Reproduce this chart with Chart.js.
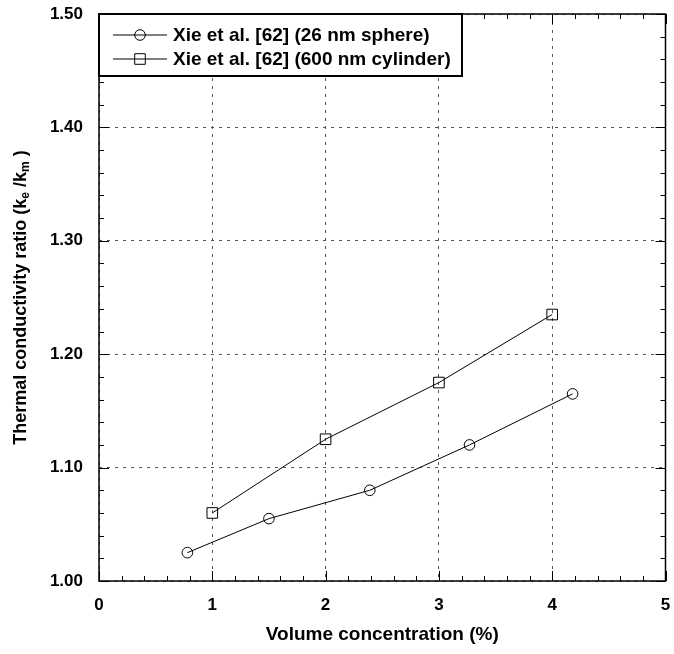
<!DOCTYPE html>
<html>
<head>
<meta charset="utf-8">
<script src="https://cdn.jsdelivr.net/npm/chart.js@4.4.1/dist/chart.umd.min.js"></script>
<style>
  html, body { margin: 0; padding: 0; background: #fff; }
  canvas { display: block; }
</style>
</head>
<body>
<canvas id="chart" width="674" height="654"></canvas>
<script>
// Data
const seriesNames = ["Xie et al. [62] (26 nm sphere)", "Xie et al. [62] (600 nm cylinder)"];
const sphereX = [0.78, 1.50, 2.39, 3.27, 4.18];
const sphereY = [1.025, 1.055, 1.080, 1.120, 1.165];
const cylinderX = [1.00, 2.00, 3.00, 4.00];
const cylinderY = [1.060, 1.125, 1.175, 1.235];

const xTicks = [0, 1, 2, 3, 4, 5];
const yTicks = [1.00, 1.10, 1.20, 1.30, 1.40, 1.50];
const xMinorStep = 0.2;
const yMinorStep = 0.02;
const xTitle = "Volume concentration (%)";
// [text, isSubscript]
const yTitleParts = [["Thermal conductivity ratio (k", false], ["e", true], [" /k", false], ["m", true], [" )", false]];

const FONT = "'Liberation Sans', Arial, Helvetica, sans-serif";
Chart.defaults.font.family = FONT;
Chart.defaults.color = "#000";

function toPoints(xs, ys) {
  return xs.map((x, i) => ({ x, y: ys[i] }));
}

function line(ctx, x1, y1, x2, y2) {
  ctx.beginPath();
  ctx.moveTo(x1, y1);
  ctx.lineTo(x2, y2);
  ctx.stroke();
}

function marker(ctx, style, x, y) {
  ctx.beginPath();
  if (style === "circle") ctx.arc(x, y, 5.3, 0, Math.PI * 2);
  else ctx.rect(x - 5.3, y - 5.3, 10.6, 10.6);
  ctx.stroke();
}

// Frame, inward ticks on all sides, y title with subscripts, boxed legend
const decorPlugin = {
  id: "decor",
  afterDraw(chart) {
    const ctx = chart.ctx;
    const { left, right, top, bottom } = chart.chartArea;
    const xs = chart.scales.x, ys = chart.scales.y;
    ctx.save();
    ctx.strokeStyle = "#000";
    ctx.lineWidth = 1;

    const xMin = xTicks[0], xMax = xTicks[xTicks.length - 1];
    for (let i = 0; xMin + i * xMinorStep <= xMax + 1e-9; i++) {
      const v = xMin + i * xMinorStep;
      const px = Math.round(xs.getPixelForValue(v)) + 0.5;
      const len = xTicks.some(t => Math.abs(t - v) < 1e-6) ? 10 : 5;
      line(ctx, px, bottom, px, bottom - len);
      line(ctx, px, top, px, top + len);
    }
    const yMin = yTicks[0], yMax = yTicks[yTicks.length - 1];
    for (let i = 0; yMin + i * yMinorStep <= yMax + 1e-9; i++) {
      const v = yMin + i * yMinorStep;
      const py = Math.round(ys.getPixelForValue(v)) + 0.5;
      const len = yTicks.some(t => Math.abs(t - v) < 1e-6) ? 10 : 5;
      line(ctx, left, py, left + len, py);
      line(ctx, right, py, right - len, py);
    }

    ctx.lineWidth = 1.5;
    ctx.strokeRect(left, top, right - left, bottom - top);

    // y title
    const mainFont = "bold 18px " + FONT;
    const subFont = "bold 12px " + FONT;
    let total = 0;
    yTitleParts.forEach(([t, sub]) => {
      ctx.font = sub ? subFont : mainFont;
      total += ctx.measureText(t).width;
    });
    ctx.translate(21, (top + bottom) / 2);
    ctx.rotate(-Math.PI / 2);
    ctx.fillStyle = "#000";
    ctx.textBaseline = "middle";
    ctx.textAlign = "left";
    let cx = -total / 2;
    yTitleParts.forEach(([t, sub]) => {
      ctx.font = sub ? subFont : mainFont;
      ctx.fillText(t, cx, sub ? 5 : 0);
      cx += ctx.measureText(t).width;
    });
    ctx.restore();

    // legend
    ctx.save();
    const box = { x: left, y: top, w: 363, h: 62 };
    ctx.fillStyle = "#fff";
    ctx.fillRect(box.x, box.y, box.w, box.h);
    ctx.strokeStyle = "#000";
    ctx.lineWidth = 2;
    ctx.strokeRect(box.x, box.y, box.w, box.h);
    ctx.font = "bold 19px " + FONT;
    ctx.textBaseline = "middle";
    ctx.fillStyle = "#000";
    chart.data.datasets.forEach((ds, i) => {
      const y = box.y + 21 + i * 24;
      ctx.lineWidth = 1;
      line(ctx, box.x + 14, y, box.x + 68, y);
      marker(ctx, ds.pointStyle, box.x + 41, y);
      ctx.fillText(ds.label, box.x + 74, y + 1);
    });
    ctx.restore();
  }
};

const datasets = [
  { label: seriesNames[0], data: toPoints(sphereX, sphereY), pointStyle: "circle", pointRadius: 5.3 },
  { label: seriesNames[1], data: toPoints(cylinderX, cylinderY), pointStyle: "rect", pointRadius: 7.5 }
].map(d => Object.assign(d, {
  showLine: true,
  borderColor: "#000",
  borderWidth: 1,
  pointBorderColor: "#000",
  pointBorderWidth: 1,
  pointBackgroundColor: "rgba(0,0,0,0)",
  tension: 0
}));

new Chart(document.getElementById("chart"), {
  type: "scatter",
  data: { datasets },
  options: {
    responsive: false,
    animation: false,
    layout: { padding: { top: 14, right: 7, left: 0, bottom: 0 } },
    plugins: { legend: { display: false }, tooltip: { enabled: false } },
    scales: {
      x: {
        type: "linear",
        min: xTicks[0],
        max: xTicks[xTicks.length - 1],
        afterBuildTicks: s => { s.ticks = xTicks.map(v => ({ value: v })); },
        afterFit: s => { s.height = 73; s.paddingLeft = 0; s.paddingRight = 0; },
        ticks: { padding: 14, font: { size: 17, weight: "bold" }, callback: v => String(v) },
        grid: { color: "#555", lineWidth: 1, drawTicks: false },
        border: { display: false, dash: [3, 5] },
        title: { display: true, text: xTitle, font: { size: 19, weight: "bold" }, padding: { top: 0, bottom: 8 } }
      },
      y: {
        type: "linear",
        min: yTicks[0],
        max: yTicks[yTicks.length - 1],
        afterBuildTicks: s => { s.ticks = yTicks.map(v => ({ value: v })); },
        afterFit: s => { s.width = 99; s.paddingTop = 0; s.paddingBottom = 0; },
        ticks: { padding: 16, font: { size: 17, weight: "bold" }, callback: v => v.toFixed(2) },
        grid: { color: "#555", lineWidth: 1, drawTicks: false },
        border: { display: false, dash: [3, 5] }
      }
    }
  },
  plugins: [decorPlugin]
});
</script>
</body>
</html>
